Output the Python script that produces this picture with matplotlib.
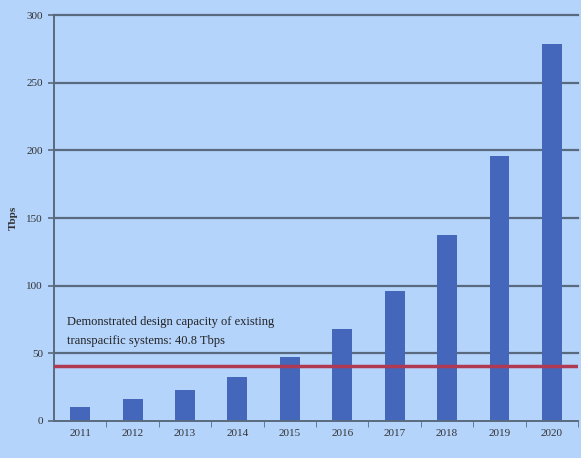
import matplotlib.pyplot as plt
import numpy as np

# Data
years = ["2011", "2012", "2013", "2014", "2015", "2016", "2017", "2018", "2019", "2020"]
capacity = [10.5, 16, 23, 32.5, 47, 68, 96, 137.5, 196, 279]
existing_capacity = 40.8
yticks = [0, 50, 100, 150, 200, 250, 300]

plt.rcParams['font.family'] = ['Liberation Serif', 'DejaVu Serif']

bg = "#b4d4fc"
fig = plt.figure(figsize=(5.81, 4.58), dpi=100, facecolor=bg)
ax = fig.add_axes([0.093, 0.081, 0.902, 0.886], facecolor=bg)

x = np.arange(len(years))

# Gridlines
for t in yticks[1:]:
    ax.axhline(t, color="#5a6a7e", linewidth=1.6, zorder=1, clip_on=False)

ax.bar(x, capacity, width=0.38, color="#4466bb", zorder=2)

# Existing capacity line
ax.axhline(existing_capacity, color="#b03a52", linewidth=2.5, zorder=3)
ax.text(-0.25, 73, "Demonstrated design capacity of existing", fontsize=9,
        color="#222222", va="center", ha="left")
ax.text(-0.25, 59, "transpacific systems: 40.8 Tbps", fontsize=9,
        color="#222222", va="center", ha="left")

ax.set_xlim(-0.5, len(years) - 0.5)
ax.set_ylim(0, 300)
ax.set_xticks(x)
ax.set_xticklabels(years, fontsize=8, color="#333333")
ax.set_xticks(np.arange(0.5, len(years), 1.0), minor=True)
ax.tick_params(axis="x", which="major", length=0, pad=6)
ax.tick_params(axis="x", which="minor", length=4, color="#5a6a7e", direction="out")
ax.set_yticks(yticks)
ax.set_yticklabels([str(t) for t in yticks], fontsize=8, color="#333333")
ax.tick_params(axis="y", length=4, color="#5a6a7e", width=1.2, pad=4)

ax.set_ylabel("Tbps", fontsize=8, fontweight="bold", color="#333333", labelpad=6)

for side in ["top", "right"]:
    ax.spines[side].set_visible(False)
ax.spines["left"].set_color("#5a6a7e")
ax.spines["left"].set_linewidth(1.4)
ax.spines["bottom"].set_color("#5a6a7e")
ax.spines["bottom"].set_linewidth(1.4)

plt.savefig("out.png", dpi=100, facecolor=bg)
